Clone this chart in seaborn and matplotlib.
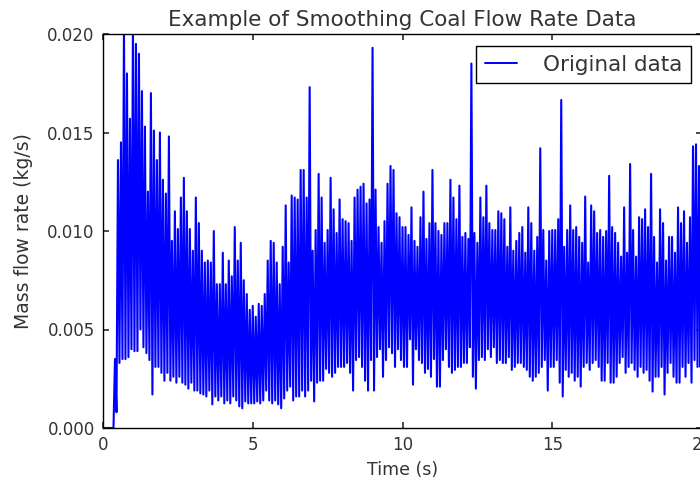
import numpy as np
import pandas as pd
import matplotlib
matplotlib.use("Agg")
import matplotlib.pyplot as plt
import seaborn as sns

# sampling grid of the read-off envelope (s)
time_s = np.round(np.arange(201) * 0.1, 1)

# upper peaks of the trace, read every 0.1 s (x 1e-3 kg/s)
upper_peaks = [
    0, 0, 0, 0, 3.5, 13.6, 14.5, 20.5, 18.0, 15.7,
    20.5, 19.5, 19.0, 17.1, 15.3, 12.0, 17.0, 15.1, 13.6, 15.0,
    12.6, 11.9, 14.8, 9.5, 11.0, 10.1, 11.7, 12.7, 11.0, 10.1,
    9.0, 11.7, 10.4, 9.0, 8.4, 8.5, 8.4, 10.0, 7.3, 7.3,
    8.9, 7.3, 8.5, 7.7, 10.2, 8.5, 9.4, 7.5, 6.8, 6.0,
    6.2, 5.65, 6.3, 6.2, 6.8, 8.5, 9.5, 9.4, 8.4, 7.3,
    9.2, 11.3, 8.4, 11.8, 11.7, 11.6, 13.1, 13.1, 11.7, 17.3,
    9.0, 10.05, 12.9, 11.7, 9.4, 10.05, 12.7, 11.1, 9.9, 11.6,
    10.6, 10.5, 10.4, 9.5, 11.7, 12.1, 12.25, 12.4, 11.4, 11.6,
    19.3, 12.1, 10.2, 9.4, 10.5, 12.4, 13.3, 13.1, 10.9, 10.7,
    10.2, 10.2, 9.8, 11.2, 9.5, 9.2, 10.7, 12.0, 9.6, 10.4,
    13.1, 10.4, 10.0, 9.8, 10.4, 10.4, 12.6, 11.7, 10.6, 12.3,
    9.7, 9.9, 9.6, 18.5, 9.9, 9.4, 11.7, 10.7, 12.3, 10.4,
    10.05, 10.05, 11.0, 10.9, 10.6, 9.2, 11.2, 9.0, 9.5, 9.9,
    10.2, 8.9, 11.2, 10.4, 9.0, 9.7, 14.2, 10.05, 8.5, 10.0,
    10.05, 10.05, 10.6, 16.65, 9.2, 10.05, 11.3, 10.05, 10.2, 9.7,
    9.4, 11.75, 8.4, 11.3, 11.0, 9.9, 10.05, 9.7, 10.0, 12.8,
    10.2, 9.9, 9.4, 8.7, 11.2, 8.9, 13.4, 10.05, 8.7, 10.7,
    10.6, 11.1, 10.2, 12.9, 9.7, 8.4, 11.1, 10.4, 8.5, 9.7,
    9.7, 8.9, 11.2, 10.4, 11.0, 9.4, 10.7, 14.3, 14.4, 13.3,
    13.4,
]

# lower troughs of the trace, read every 0.1 s (x 1e-3 kg/s)
lower_troughs = [
    0, 0, 0, 0, 0.8, 3.3, 3.5, 3.5, 3.6, 4.0,
    3.9, 3.9, 5.0, 4.1, 3.8, 3.45, 1.7, 3.1, 3.1, 2.8,
    2.4, 2.8, 2.4, 2.6, 2.3, 2.6, 2.3, 2.2, 2.0, 2.3,
    1.9, 1.9, 1.76, 1.7, 1.6, 1.9, 1.2, 1.6, 1.4, 1.6,
    1.25, 1.4, 1.25, 1.6, 1.4, 1.1, 1.0, 1.35, 1.25, 1.25,
    1.25, 1.35, 1.25, 1.4, 1.9, 1.4, 1.25, 1.4, 1.2, 1.0,
    1.5, 1.9, 2.1, 1.4, 1.6, 1.6, 1.9, 1.6, 1.9, 2.4,
    1.35, 2.3, 2.4, 2.4, 3.0, 2.8, 2.6, 2.8, 3.1, 3.1,
    3.1, 3.3, 2.8, 1.9, 3.45, 3.6, 3.1, 2.4, 1.9, 3.45,
    1.9, 3.6, 4.0, 2.6, 3.45, 4.1, 3.8, 3.1, 4.0, 3.45,
    3.1, 3.1, 4.5, 2.2, 4.0, 3.45, 3.3, 2.8, 3.0, 2.6,
    3.5, 2.1, 2.1, 3.45, 4.0, 3.1, 2.8, 2.95, 3.1, 3.1,
    3.3, 3.3, 4.1, 2.6, 2.0, 3.45, 3.6, 3.45, 4.0, 3.6,
    4.1, 3.3, 3.45, 3.3, 3.3, 3.6, 2.95, 3.1, 3.3, 3.3,
    3.1, 2.95, 2.6, 2.4, 2.6, 2.8, 3.1, 3.45, 1.9, 3.1,
    3.1, 3.45, 2.3, 1.6, 2.95, 2.6, 2.8, 2.4, 2.6, 2.1,
    3.1, 3.3, 2.95, 3.3, 3.45, 3.1, 2.4, 2.4, 3.3, 2.3,
    2.3, 2.6, 3.3, 3.6, 2.8, 3.1, 3.3, 2.95, 2.6, 3.1,
    2.8, 2.95, 2.4, 1.85, 2.6, 2.6, 3.1, 1.7, 2.8, 3.3,
    2.6, 2.3, 2.3, 3.1, 2.6, 3.3, 2.3, 3.45, 3.1, 3.1,
    3.1,
]

x_ticks = [0, 5, 10, 15, 20]
y_ticks = [0.000, 0.005, 0.010, 0.015, 0.020]

# zig-zag the trace: peak at t, trough half a step later
t = np.empty(2 * len(time_s))
t[0::2] = time_s
t[1::2] = time_s + 0.05
flow = np.empty(2 * len(time_s))
flow[0::2] = np.array(upper_peaks) * 1e-3
flow[1::2] = np.array(lower_troughs) * 1e-3
df = pd.DataFrame({"Time": t, "Flow": flow})

sns.set_theme(style="white", rc={
    "xtick.direction": "in", "ytick.direction": "in",
    "xtick.top": True, "ytick.right": True,
    "xtick.bottom": True, "ytick.left": True,
    "xtick.major.size": 4, "ytick.major.size": 4,
    "axes.edgecolor": "black", "axes.linewidth": 1.0,
    "text.color": "#333333", "axes.labelcolor": "#333333",
    "xtick.color": "#333333", "ytick.color": "#333333",
    "path.simplify": False,
})
plt.rcParams["font.family"] = ["DejaVu Sans"]

fig = plt.figure(figsize=(7.0, 4.82), dpi=100)
ax = fig.add_axes([103 / 700, 54 / 482, 599 / 700, 394 / 482])

sns.lineplot(data=df, x="Time", y="Flow", ax=ax, color="#0000ff",
             linewidth=1.5, estimator=None, sort=False, label="Original data")

ax.set_xlim(0, 20)
ax.set_ylim(0, 0.020)
ax.set_xticks(x_ticks)
ax.set_yticks(y_ticks)
ax.set_yticklabels([f"{v:.3f}" for v in y_ticks])
ax.tick_params(labelsize=12, pad=6)
ax.set_xlabel("Time (s)", fontsize=12.5, labelpad=5)
ax.set_ylabel("Mass flow rate (kg/s)", fontsize=13.5, labelpad=10)
ax.set_title("Example of Smoothing Coal Flow Rate Data", fontsize=15.5, pad=6)

leg = ax.legend(loc="upper right", bbox_to_anchor=((691 - 103) / 599, 1 - 12 / 394),
                bbox_transform=ax.transAxes, borderaxespad=0,
                fontsize=15.5, frameon=True, fancybox=False,
                framealpha=1, edgecolor="black", handlelength=1.5,
                handletextpad=1.2, borderpad=0.4)
leg.get_frame().set_linewidth(1.0)
for h in leg.get_lines():
    h.set_linewidth(1.4)

fig.savefig("out.png", dpi=100)
